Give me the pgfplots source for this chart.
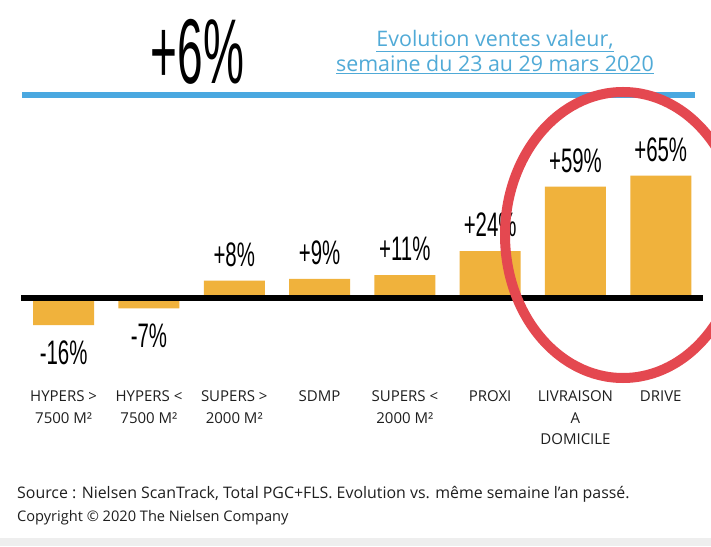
\documentclass[border=0pt]{standalone}
\usepackage{fontspec}
\setmainfont{Open Sans}
\newfontfamily\numfont{Liberation Sans}
\usepackage{graphicx}
\usepackage{pgfplots}
\usepackage{pgfplotstable}
\pgfplotsset{compat=1.18}
\definecolor{barcol}{RGB}{240,178,60}
\definecolor{rulecol}{RGB}{74,168,224}
\definecolor{subcol}{RGB}{80,170,215}
\definecolor{redcol}{RGB}{228,72,80}
\definecolor{bandcol}{RGB}{238,238,238}

\pgfplotstableread{
x y lab
0 -16 -16
1 -7 -7
}\negtable
\pgfplotstableread{
x y lab
2 8 +8
3 9 +9
4 11 +11
5 24 +24
6 59 +59
7 65 +65
}\postable

\begin{document}
\begin{tikzpicture}[x=1pt,y=1pt]
\useasboundingbox (0,0) rectangle (711,546);
\fill[white] (0,0) rectangle (711,546);
\fill[bandcol] (0,0) rectangle (711,8);
% blue rule
\fill[rulecol] (22,546-98) rectangle (695,546-92);
% big title
\node[anchor=base, inner sep=0pt] at (197.5,546-84) {\scalebox{0.5}[1]{\numfont\fontsize{92}{92}\selectfont +6\%}};
% subtitle
\node[anchor=base, inner sep=0pt, text=subcol] at (495,546-47) {\fontsize{21.4}{24}\selectfont\underline{Evolution ventes valeur,}};
\node[anchor=base, inner sep=0pt, text=subcol] at (495,546-72) {\fontsize{21.4}{24}\selectfont\underline{semaine du 23 au 29 mars 2020}};

\begin{axis}[
  at={(21pt,213.6pt)}, anchor=south west,
  scale only axis, width=682.4pt, height=166.1pt,
  xmin=-0.5, xmax=7.5, ymin=-20, ymax=70,
  axis line style={draw=none},
  major tick style={draw=none},
  ytick=\empty,
  xtick={0,1,2,3,4,5,6,7},
  xticklabels={{HYPERS >\\7500 M²},{HYPERS <\\7500 M²},{SUPERS >\\2000 M²},{SDMP},{SUPERS <\\2000 M²},{PROXI},{LIVRAISON\\A\\DOMICILE},{DRIVE}},
  xticklabel style={font=\fontsize{15}{21.5}\selectfont, align=center, inner sep=0pt, anchor=north, yshift=-54pt, text=black!88},
  ybar, bar width=61pt, bar shift=0pt,
  clip=false,
  nodes near coords={\scalebox{0.6}[1]{\numfont\fontsize{34}{34}\selectfont\pgfplotspointmeta\%}},
  point meta=explicit symbolic,
]
\addplot[fill=barcol, draw=none, every node near coord/.append style={anchor=north, inner sep=0pt, outer ysep=16pt, text=black}] table[x=x,y=y,meta=lab]{\negtable};
\addplot[fill=barcol, draw=none, every node near coord/.append style={anchor=south, inner sep=0pt, outer ysep=14pt, text=black}] table[x=x,y=y,meta=lab]{\postable};
\draw[line width=6pt, black] ([yshift=-2.5pt]axis cs:-0.5,0) -- ([yshift=-2.5pt]axis cs:7.5,0);
\end{axis}

\node[anchor=base west, inner sep=0pt, text=black!88] at (17,546-498) {\fontsize{15.9}{18}\selectfont Source : Nielsen ScanTrack, Total PGC+FLS. Evolution vs. même semaine l’an passé.};
\node[anchor=base west, inner sep=0pt, text=black!88] at (17,546-521) {\fontsize{14.6}{17}\selectfont Copyright © 2020 The Nielsen Company};

\begin{scope}
\clip (0,0) rectangle (711,546);
\draw[redcol, line width=10pt] (623,311) ellipse [x radius=118, y radius=143];
\end{scope}
\end{tikzpicture}
\end{document}
